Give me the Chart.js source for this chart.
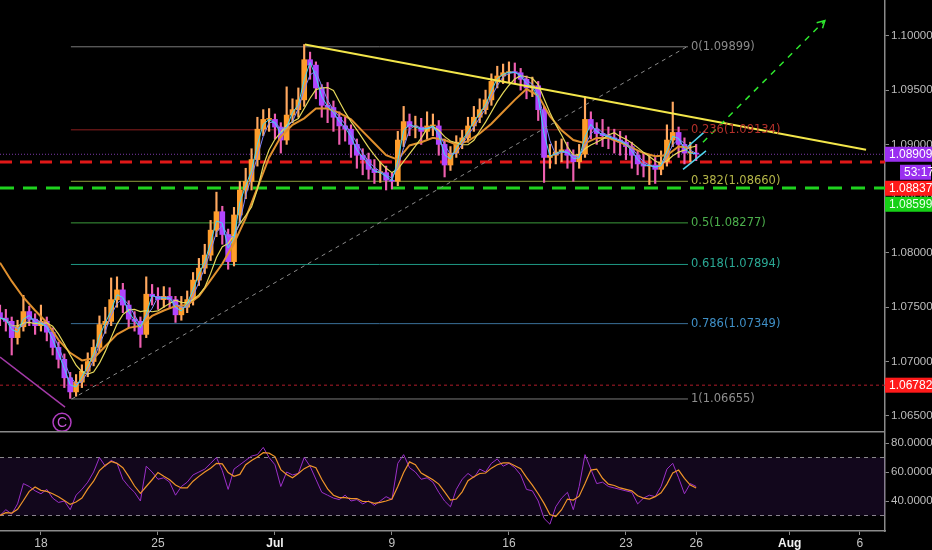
<!DOCTYPE html>
<html>
<head>
<meta charset="utf-8">
<script src="https://cdn.jsdelivr.net/npm/chart.js@4.4.1/dist/chart.umd.min.js"></script>
<style>
  html, body { margin: 0; padding: 0; background: #000; }
  #wrap { width: 932px; height: 550px; position: relative; overflow: hidden; background: #000; }
  #priceChart { position: absolute; left: 0; top: 0; }
  #rsiChart { position: absolute; left: 0; top: 431px; }
</style>
</head>
<body>
<div id="wrap">
  <canvas id="priceChart" width="932" height="431"></canvas>
  <canvas id="rsiChart" width="932" height="119"></canvas>
</div>
<script>
// time axis: trading days counted from Mon 18 Jun
const tickDays = [0, 5, 10, 15, 20, 25, 28, 32, 35];
const tickLabels = ["18", "25", "Jul", "9", "16", "23", "26", "Aug", "6"];
const monthLabels = ["Jul", "Aug"];
const dayRange = [-1.75, 36.07];

const priceTicks = [1.065, 1.07, 1.075, 1.08, 1.085, 1.09, 1.095, 1.1];
const priceRange = [1.0636, 1.1033];
const rsiTicks = [40, 60, 80];
const rsiRange = [19.3, 88.3];
const rsiBand = [30, 70];

// 6-hour candles
const firstCandleDay = -1.75;
const candleDays = 0.25;
const firstOpen = 1.0745;
const closes = [
  1.0740, 1.0737, 1.0722, 1.0732, 1.0746, 1.0739, 1.0733, 1.0737, 1.0727, 1.0713,
  1.0702, 1.0685, 1.0672, 1.0681, 1.0691, 1.0700, 1.0713, 1.0734, 1.0737, 1.0757,
  1.0766, 1.0752, 1.0739, 1.0737, 1.0725, 1.0762, 1.0760, 1.0757, 1.0760, 1.0757,
  1.0743, 1.0750, 1.0757, 1.0775, 1.0786, 1.0798, 1.0821, 1.0838, 1.0817, 1.0792,
  1.0835, 1.0858, 1.0866, 1.0886, 1.0914, 1.0923, 1.0923, 1.0916, 1.0904, 1.0927,
  1.0932, 1.0941, 1.0978, 1.0973, 1.0952, 1.0936, 1.0934, 1.0925, 1.0917, 1.0914,
  1.0900, 1.0890, 1.0886, 1.0877, 1.0874, 1.0874, 1.0867, 1.0866, 1.0904, 1.0921,
  1.0916, 1.0916, 1.0912, 1.0917, 1.0917, 1.0900, 1.0881, 1.0892, 1.0902, 1.0906,
  1.0917, 1.0925, 1.0932, 1.0941, 1.0958, 1.0963, 1.0966, 1.0967, 1.0966, 1.0960,
  1.0952, 1.0954, 1.0932, 1.0888, 1.0890, 1.0893, 1.0895, 1.0890, 1.0884, 1.0891,
  1.0923, 1.0914, 1.0910, 1.0908, 1.0906, 1.0904, 1.0902, 1.0898, 1.0890, 1.0882,
  1.0880, 1.0881, 1.0877, 1.0884, 1.0904, 1.0911, 1.0900, 1.0892, 1.0892, 1.0891
];
const highs = [
  1.0752, 1.0748, 1.0741, 1.0738, 1.0761, 1.0751, 1.0744, 1.0752, 1.0741, 1.0731,
  1.0718, 1.0707, 1.0690, 1.0688, 1.0697, 1.0708, 1.0720, 1.0742, 1.0750, 1.0777,
  1.0778, 1.0772, 1.0756, 1.0746, 1.0741, 1.0778, 1.0771, 1.0768, 1.0769, 1.0768,
  1.0760, 1.0760, 1.0765, 1.0782, 1.0795, 1.0808, 1.0830, 1.0856, 1.0843, 1.0822,
  1.0842, 1.0866, 1.0878, 1.0896, 1.0925, 1.0932, 1.0933, 1.0928, 1.0920, 1.0953,
  1.0942, 1.0952, 1.0992, 1.0985, 1.0976, 1.0955, 1.0957, 1.0940, 1.0930, 1.0925,
  1.0918, 1.0905, 1.0896, 1.0892, 1.0886, 1.0884, 1.0880, 1.0874, 1.0912, 1.0935,
  1.0928, 1.0926, 1.0924, 1.0930, 1.0928, 1.0922, 1.0905, 1.0898, 1.0908, 1.0913,
  1.0925, 1.0935, 1.0942, 1.0950, 1.0965, 1.0972, 1.0974, 1.0976, 1.0975, 1.0970,
  1.0963, 1.0962, 1.0958, 1.0935, 1.0900, 1.0903, 1.0905, 1.0902, 1.0895, 1.0900,
  1.0944, 1.0930, 1.0920, 1.0923, 1.0916, 1.0914, 1.0912, 1.0908, 1.0902, 1.0894,
  1.0892, 1.0890, 1.0888, 1.0894, 1.0918, 1.0939, 1.0916, 1.0906, 1.0902, 1.0900
];
const lows = [
  1.0733, 1.0728, 1.0706, 1.0716, 1.0728, 1.0733, 1.0725, 1.0728, 1.0719, 1.0706,
  1.0694, 1.0676, 1.0666, 1.0668, 1.0676, 1.0686, 1.0696, 1.0709, 1.0726, 1.0733,
  1.0750, 1.0745, 1.0731, 1.0728, 1.0713, 1.0722, 1.0752, 1.0748, 1.0750, 1.0749,
  1.0736, 1.0738, 1.0745, 1.0752, 1.0770, 1.0781, 1.0793, 1.0815, 1.0808, 1.0785,
  1.0788, 1.0828, 1.0850, 1.0858, 1.0880, 1.0908, 1.0912, 1.0905, 1.0892, 1.0900,
  1.0920, 1.0925, 1.0935, 1.0960, 1.0942, 1.0925, 1.0920, 1.0912, 1.0900, 1.0903,
  1.0888, 1.0878, 1.0872, 1.0868, 1.0864, 1.0865, 1.0858, 1.0859, 1.0862, 1.0898,
  1.0908, 1.0906, 1.0900, 1.0905, 1.0908, 1.0890, 1.0870, 1.0876, 1.0888, 1.0896,
  1.0902, 1.0912, 1.0920, 1.0928, 1.0936, 1.0952, 1.0956, 1.0957, 1.0956, 1.0950,
  1.0942, 1.0944, 1.0922, 1.0865, 1.0878, 1.0882, 1.0884, 1.0878, 1.0866, 1.0878,
  1.0888, 1.0905, 1.0900, 1.0898, 1.0896, 1.0892, 1.0890, 1.0886, 1.0878, 1.0872,
  1.0870, 1.0863, 1.0864, 1.0872, 1.0880, 1.0898, 1.0888, 1.0882, 1.0884, 1.0885
];
// slow moving average, read every second candle
const slowMa = [
  1.0791, 1.0774, 1.0759, 1.0747, 1.0736, 1.0720, 1.0708, 1.0701, 1.0703, 1.0714,
  1.0725, 1.0731, 1.0733, 1.0742, 1.0747, 1.0751, 1.0752, 1.0760, 1.0775, 1.0790,
  1.0809, 1.0832, 1.0860, 1.0888, 1.0907, 1.0918, 1.0924, 1.0933, 1.0933, 1.0929,
  1.0923, 1.0912, 1.0901, 1.0890, 1.0886, 1.0899, 1.0902, 1.0906, 1.0904, 1.0900,
  1.0903, 1.0910, 1.0919, 1.0930, 1.0941, 1.0951, 1.0945, 1.0926, 1.0913, 1.0904,
  1.0901, 1.0906, 1.0906, 1.0902, 1.0897, 1.0892, 1.0889, 1.0890, 1.0898, 1.0897
];
const rsiValues = [
  30, 34, 31, 38, 52, 50, 47, 45, 48, 42,
  39, 40, 34, 44, 48, 53, 60, 70, 64, 68,
  66, 55, 50, 46, 40, 64, 60, 55, 56, 53,
  44, 50, 53, 58, 60, 62, 66, 70, 61, 48,
  62, 65, 68, 71, 72, 77, 70, 65, 50, 60,
  58, 59, 70, 64, 55, 46, 44, 42, 41, 44,
  40, 41, 38, 40, 37, 40, 43, 41, 66, 72,
  63, 60, 55, 56, 53, 46, 40, 36, 48, 55,
  59, 56, 62, 60, 66, 69, 64, 66, 63, 58,
  48, 47, 40, 28, 24, 36, 42, 46, 34, 50,
  72, 62, 52, 53, 50, 49, 48, 47, 46, 38,
  42, 44, 43, 50, 62, 66, 56, 45, 52, 50
];

// fibonacci retracement
const fibNames = ["0", "0.236", "0.382", "0.5", "0.618", "0.786", "1"];
const fibPrices = [1.09899, 1.09134, 1.08660, 1.08277, 1.07894, 1.07349, 1.06655];
const fibDays = [1.28, 27.65];

// drawings
const resistanceLine = [{ x: 11.28, y: 1.0992 }, { x: 35.26, y: 1.0895 }];
const fibDiagonal = [{ x: 1.32, y: 1.06655 }, { x: 27.6, y: 1.09899 }];
const targetLine = [{ x: 28.29, y: 1.0902 }, { x: 33.5, y: 1.1014 }];
const targetHead = [{ x: 33.15, y: 1.1012 }, { x: 33.5, y: 1.1014 }, { x: 33.4, y: 1.1007 }];
const channelTop = [{ x: 27.65, y: 1.0898 }, { x: 28.38, y: 1.0912 }];
const channelBottom = [{ x: 27.44, y: 1.0877 }, { x: 28.42, y: 1.0894 }];
const waveLine = [{ x: -1.75, y: 1.0704 }, { x: 1.03, y: 1.0658 }];
const waveLabel = { day: 0.9, price: 1.0644, text: "C" };

const lastPrice = 1.08909;
const barTimer = "53:17";
const redLevel = 1.08837;
const greenLevel = 1.08599;
const lowLevel = 1.06782;

// ---------------------------------------------------------------

const FONT = "'Liberation Sans', Arial, sans-serif";
const AXIS_W = 47;

function sma(values, n) {
  return values.map((_, i) => {
    const part = values.slice(Math.max(0, i - n + 1), i + 1);
    return part.reduce((a, b) => a + b, 0) / part.length;
  });
}

const candles = closes.map((close, i) => ({
  x: firstCandleDay + i * candleDays,
  open: i === 0 ? firstOpen : closes[i - 1],
  close,
  high: highs[i],
  low: lows[i]
}));
const isUp = (i) => candles[i] && candles[i].close >= candles[i].open;

function series(values, step) {
  return values.map((v, i) => ({ x: firstCandleDay + i * candleDays * step, y: v }));
}

function flat(value) {
  return [{ x: dayRange[0], y: value }, { x: dayRange[1], y: value }];
}

function line(data, color, width, dash) {
  return {
    type: "line",
    data,
    borderColor: color,
    borderWidth: width,
    borderDash: dash || [],
    pointRadius: 0,
    tension: 0,
    fill: false
  };
}

// keep the plot flush with the canvas edges
function noScalePadding(scale) {
  scale.paddingTop = 0;
  scale.paddingBottom = 0;
  scale.paddingLeft = 0;
  scale.paddingRight = 0;
}

const fibLineColors = ["#7a7a7a", "#8c1f1f", "#8f9b3c", "#3c9a3c", "#1f9985", "#3a6f98", "#7a7a7a"];
const fibTextColors = ["#8a8a8a", "#b3302a", "#b4b548", "#4caf4c", "#2aa894", "#3f8fc6", "#8e8e8e"];

const axisTags = [
  { price: lastPrice, color: "#9a2ff0", text: "#ffffff", timer: barTimer },
  { price: redLevel, color: "#ff1a1a", text: "#ffffff" },
  { price: greenLevel, color: "#16d016", text: "#eaffea" },
  { price: lowLevel, color: "#ff1a1a", text: "#ffffff" }
];

const pricePanel = {
  id: "pricePanel",
  afterDatasetsDraw(chart) {
    const { ctx, scales: { x, y } } = chart;
    ctx.save();
    ctx.font = "11.5px 'DejaVu Sans', sans-serif";
    ctx.textBaseline = "middle";
    fibPrices.forEach((price, i) => {
      ctx.fillStyle = fibTextColors[i];
      ctx.fillText(fibNames[i] + "(" + price.toFixed(5) + ")",
        x.getPixelForValue(fibDays[1]) + 3, y.getPixelForValue(price));
    });
    const cx = x.getPixelForValue(waveLabel.day);
    const cy = y.getPixelForValue(waveLabel.price);
    ctx.strokeStyle = "#b03cc0";
    ctx.lineWidth = 1.5;
    ctx.beginPath();
    ctx.arc(cx, cy, 9, 0, Math.PI * 2);
    ctx.stroke();
    ctx.fillStyle = "#c455d4";
    ctx.font = "14px " + FONT;
    ctx.textAlign = "center";
    ctx.fillText(waveLabel.text, cx, cy + 1);
    ctx.restore();
  },
  afterDraw(chart) {
    const { ctx, chartArea, scales: { y } } = chart;
    const left = chartArea.right;
    const right = chart.width;
    let bottom = -Infinity;
    ctx.save();
    ctx.font = "12px " + FONT;
    ctx.textBaseline = "middle";
    axisTags.forEach((tag) => {
      const cy = Math.max(y.getPixelForValue(tag.price), bottom + 8.5);
      ctx.fillStyle = tag.color;
      ctx.fillRect(left, cy - 7.5, right - left, 15);
      ctx.fillStyle = tag.text;
      ctx.fillText(tag.price.toFixed(5), left + 4, cy + 0.5);
      bottom = cy + 7.5;
      if (tag.timer) {
        const ty = bottom + 3 + 7.5;
        ctx.fillStyle = tag.color;
        ctx.fillRect(left + 15, ty - 7.5, right - left - 16, 15);
        ctx.fillStyle = tag.text;
        ctx.fillText(tag.timer, left + 19, ty + 0.5);
        bottom = ty + 7.5;
      }
    });
    ctx.restore();
  }
};

const fastMa = sma(closes, 2);
const midMa = sma(closes, 3);
const yellowMa = sma(closes, 6);

const priceDatasets = [
  line(targetHead, "#2ee82e", 1.5),
  line(targetLine, "#2ee82e", 1.5, [6, 6]),
  line(channelTop, "#4fd6f0", 1.5),
  line(channelBottom, "#4fd6f0", 1.5),
  line(resistanceLine, "#f3e64a", 2),
  line(waveLine, "#a43aa8", 1.5),
  line(fibDiagonal, "#8a8a8a", 1, [4, 4]),
  line(series(fastMa, 1), "#3fd7f5", 1),
  line(series(midMa, 1), "#7d86ff", 1),
  line(series(yellowMa, 1), "#e6d85a", 1.2),
  line(series(slowMa, 2), "#e0902e", 2),
  {
    type: "bar",
    data: candles.map((c) => ({ x: c.x, y: [c.open, c.close] })),
    backgroundColor: (ctx) => (isUp(ctx.dataIndex) ? "#ff9d2b" : "#b145ff"),
    barThickness: 5,
    minBarLength: 1,
    grouped: false
  },
  {
    type: "bar",
    data: candles.map((c) => ({ x: c.x, y: [c.low, c.high] })),
    backgroundColor: (ctx) => (isUp(ctx.dataIndex) ? "#ffa860" : "#ee5fb0"),
    barThickness: 1.5,
    grouped: false
  },
  line(flat(lastPrice), "#7b3aa8", 1, [1, 2]),
  line(flat(redLevel), "#e01818", 3, [12, 8]),
  line(flat(greenLevel), "#1fd21f", 3, [14, 9]),
  line(flat(lowLevel), "#b01c2a", 1, [3, 3])
];
fibPrices.forEach((price, i) => {
  priceDatasets.push(line([{ x: fibDays[0], y: price }, { x: fibDays[1], y: price }], fibLineColors[i], 1));
});

new Chart(document.getElementById("priceChart"), {
  type: "bar",
  data: { datasets: priceDatasets },
  options: {
    responsive: false,
    animation: false,
    layout: { padding: 0, autoPadding: false },
    plugins: { legend: { display: false }, tooltip: { enabled: false } },
    scales: {
      x: { type: "linear", min: dayRange[0], max: dayRange[1], offset: false, display: false },
      y: {
        type: "linear",
        position: "right",
        min: priceRange[0],
        max: priceRange[1],
        afterFit(scale) { scale.width = AXIS_W; noScalePadding(scale); },
        afterBuildTicks(scale) { scale.ticks = priceTicks.map((value) => ({ value })); },
        grid: { drawOnChartArea: false, drawTicks: true, tickLength: 4, color: "#8a8a8a" },
        border: { display: true, color: "#8a8a8a", width: 1.5 },
        ticks: {
          padding: 2,
          color: "#bdbdbd",
          font: { family: FONT, size: 11.5 },
          callback: (v) => Number(v).toFixed(5)
        }
      }
    }
  },
  plugins: [pricePanel]
});

// RSI panel
const rsiSignal = sma(rsiValues, 3);
const rsiTop = {
  id: "rsiTop",
  afterDraw(chart) {
    const { ctx, chartArea } = chart;
    ctx.save();
    ctx.strokeStyle = "#8a8a8a";
    ctx.lineWidth = 1.5;
    ctx.beginPath();
    ctx.moveTo(0, 0.75);
    ctx.lineTo(chartArea.right, 0.75);
    ctx.stroke();
    ctx.restore();
  }
};
const tickName = (value) => tickLabels[tickDays.indexOf(value)] || "";
const isMonth = (ctx) => !!(ctx && ctx.tick && monthLabels.includes(tickName(ctx.tick.value)));

new Chart(document.getElementById("rsiChart"), {
  type: "line",
  data: {
    datasets: [
      line(series(rsiSignal, 1), "#f0952a", 1.2),
      line(series(rsiValues, 1), "#9b2fc8", 1),
      Object.assign(line(flat(rsiBand[1]), "#8d8d8d", 1, [4, 4]), {
        fill: "+1",
        backgroundColor: "rgba(120, 50, 190, 0.15)"
      }),
      line(flat(rsiBand[0]), "#8d8d8d", 1, [4, 4])
    ]
  },
  options: {
    responsive: false,
    animation: false,
    layout: { padding: 0, autoPadding: false },
    plugins: { legend: { display: false }, tooltip: { enabled: false } },
    scales: {
      x: {
        type: "linear",
        min: dayRange[0],
        max: dayRange[1],
        offset: false,
        afterFit(scale) { scale.height = 19; noScalePadding(scale); },
        afterBuildTicks(scale) { scale.ticks = tickDays.map((value) => ({ value })); },
        grid: { drawOnChartArea: false, drawTicks: true, tickLength: 4, color: "#8a8a8a" },
        border: { display: true, color: "#8a8a8a", width: 1.5 },
        ticks: {
          padding: 1,
          maxRotation: 0,
          autoSkip: false,
          callback: (v) => tickName(v),
          color: (ctx) => (isMonth(ctx) ? "#f2f2f2" : "#c4c4c4"),
          font: (ctx) => ({ family: FONT, size: 12, weight: isMonth(ctx) ? "bold" : "normal" })
        }
      },
      y: {
        type: "linear",
        position: "right",
        min: rsiRange[0],
        max: rsiRange[1],
        afterFit(scale) { scale.width = AXIS_W; noScalePadding(scale); },
        afterBuildTicks(scale) { scale.ticks = rsiTicks.map((value) => ({ value })); },
        grid: { drawOnChartArea: false, drawTicks: true, tickLength: 4, color: "#8a8a8a" },
        border: { display: true, color: "#8a8a8a", width: 1.5 },
        ticks: {
          padding: 2,
          color: "#bdbdbd",
          font: { family: FONT, size: 11.5 },
          callback: (v) => Number(v).toFixed(4)
        }
      }
    }
  },
  plugins: [rsiTop]
});
</script>
</body>
</html>
